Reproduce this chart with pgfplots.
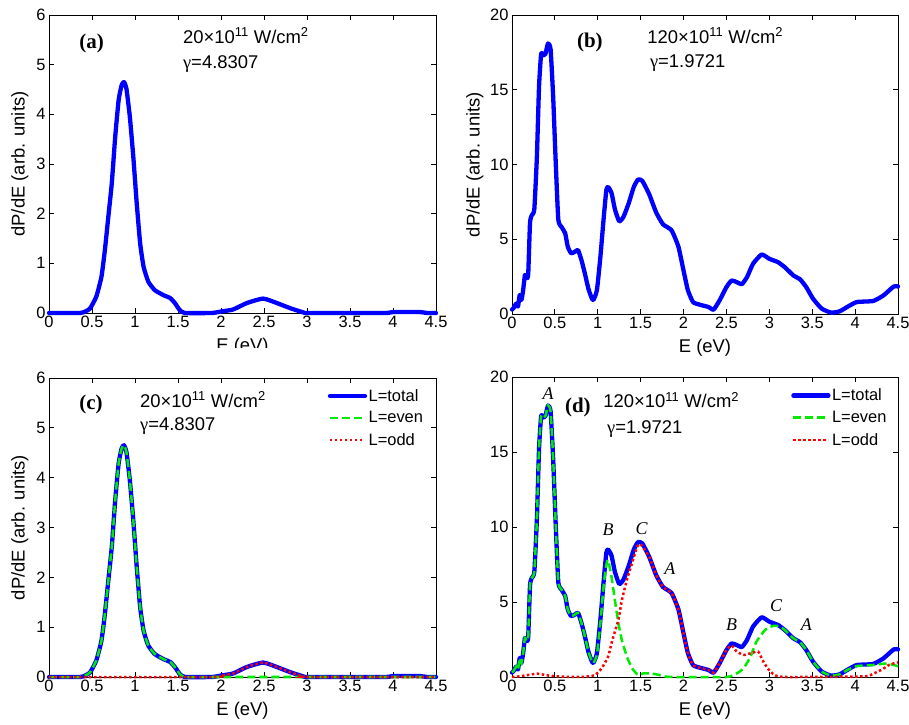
\documentclass[border=0pt]{standalone}
\usepackage{fontspec}
\setmainfont{Liberation Sans}
\newfontfamily\timesfont{Liberation Serif}
\usepackage{pgfplots}
\usepackage{pgfplotstable}
\pgfplotsset{compat=1.18}
\definecolor{mblue}{RGB}{0,0,255}
\definecolor{mgreen}{RGB}{0,235,0}
\definecolor{mred}{RGB}{255,0,0}

% ---------- 20x10^11 W/cm^2 ----------
\pgfplotstableread{
x y
0 0
0.36 0
0.42 0.03
0.477 0.09
0.55 0.33
0.61 0.73
0.65 1.27
0.69 1.94
0.73 2.61
0.77 3.55
0.81 4.29
0.845 4.59
0.872 4.65
0.9 4.52
0.94 3.95
0.98 3.15
1.02 2.21
1.06 1.4
1.1 0.93
1.155 0.63
1.23 0.46
1.33 0.36
1.41 0.3
1.466 0.195
1.52 0.06
1.58 0
1.9 0
2.0 0.03
2.14 0.07
2.3 0.2
2.49 0.29
2.65 0.2
2.8 0.1
2.96 0.01
3.03 0
3.9 0
4.0 0.02
4.3 0.02
4.4 0
4.5 0
}\totalA

\pgfplotstableread{
x y
0 0
0.36 0
0.42 0.03
0.477 0.09
0.55 0.33
0.61 0.73
0.65 1.27
0.69 1.94
0.73 2.61
0.77 3.55
0.81 4.29
0.845 4.59
0.872 4.65
0.9 4.52
0.94 3.95
0.98 3.15
1.02 2.21
1.06 1.4
1.1 0.93
1.155 0.63
1.23 0.46
1.33 0.36
1.41 0.3
1.466 0.195
1.52 0.06
1.58 0
1.9 0
4.5 0
}\evenA

\pgfplotstableread{
x y
0 0
1.9 0
2.0 0.03
2.14 0.07
2.3 0.2
2.49 0.29
2.65 0.2
2.8 0.1
2.96 0.01
3.03 0
4.5 0
}\oddA

% ---------- 120x10^11 W/cm^2 ----------
\pgfplotstableread{
x y
0 0.3
0.016 0.38
0.05 0.7
0.07 0.5
0.09 1.27
0.11 0.94
0.13 1.6
0.15 2.6
0.16 2.5
0.18 2.4
0.19 2.8
0.21 6.1
0.23 6.6
0.26 7.0
0.29 10.5
0.315 15.2
0.34 17.4
0.37 17.3
0.39 17.4
0.42 18.1
0.45 17.7
0.48 14.5
0.51 10.1
0.54 6.3
0.58 5.8
0.62 5.4
0.65 4.5
0.69 4.06
0.735 4.17
0.77 4.28
0.81 3.6
0.85 2.7
0.89 1.7
0.93 1.05
0.95 0.94
0.99 1.6
1.03 3.8
1.07 6.5
1.10 8.3
1.12 8.5
1.16 8.1
1.20 7.0
1.25 6.2
1.30 6.5
1.36 7.4
1.42 8.5
1.47 9.0
1.52 8.9
1.6 8.0
1.68 6.8
1.76 6.0
1.86 5.6
1.94 4.5
2.0 2.9
2.05 1.6
2.11 0.8
2.19 0.62
2.29 0.47
2.35 0.29
2.42 0.91
2.5 1.8
2.56 2.24
2.62 2.13
2.68 2.0
2.74 2.47
2.81 3.36
2.91 3.98
3.0 3.69
3.1 3.47
3.18 3.13
3.28 2.58
3.36 2.31
3.43 1.8
3.51 1.02
3.61 0.36
3.72 0.09
3.82 0.18
3.92 0.51
4.02 0.8
4.21 0.87
4.33 1.24
4.45 1.84
4.5 1.84
}\totalB

\pgfplotstableread{
x y
0 0.3
0.016 0.38
0.05 0.7
0.07 0.5
0.09 1.27
0.11 0.94
0.13 1.6
0.15 2.6
0.16 2.5
0.18 2.4
0.19 2.8
0.21 6.1
0.23 6.6
0.26 7.0
0.29 10.5
0.315 15.2
0.34 17.4
0.37 17.3
0.39 17.4
0.42 18.1
0.45 17.7
0.48 14.5
0.51 10.1
0.54 6.3
0.58 5.8
0.62 5.4
0.65 4.5
0.69 4.06
0.735 4.17
0.77 4.28
0.81 3.6
0.85 2.7
0.89 1.7
0.93 1.05
0.95 0.94
0.99 1.5
1.03 3.6
1.07 6.2
1.10 7.5
1.12 7.8
1.16 6.7
1.20 5.1
1.24 3.6
1.28 2.47
1.34 1.35
1.40 0.58
1.47 0.13
1.53 0.24
1.62 0.24
1.72 0.13
1.80 0.02
1.9 0
2.5 0
2.62 0.24
2.70 0.58
2.78 1.35
2.85 2.36
2.95 3.13
3.04 3.4
3.12 3.38
3.18 3.13
3.28 2.58
3.36 2.31
3.43 1.8
3.51 1.02
3.61 0.36
3.72 0.09
3.82 0.18
3.92 0.5
4.02 0.73
4.21 0.8
4.37 0.9
4.5 0.72
}\evenB

\pgfplotstableread{
x y
0 0
0.1 0.05
0.2 0.15
0.3 0.22
0.4 0.12
0.5 0.05
0.6 0.02
0.8 0
0.9 0.05
0.97 0.13
1.045 0.58
1.12 1.35
1.17 2.47
1.24 3.8
1.28 5.1
1.34 6.5
1.40 7.6
1.46 8.7
1.5 8.85
1.6 8.0
1.68 6.8
1.76 6.0
1.86 5.6
1.94 4.5
2.0 2.9
2.05 1.6
2.11 0.8
2.19 0.62
2.29 0.47
2.35 0.29
2.42 0.91
2.5 1.8
2.56 2.1
2.62 1.69
2.70 1.47
2.78 1.58
2.87 1.69
2.92 1.13
2.98 0.58
3.06 0.13
3.2 0
4.1 0.04
4.21 0.22
4.31 0.49
4.4 0.82
4.5 0.98
}\oddB

\pgfplotsset{
  mystyle/.style={
    scale only axis, width=387bp, height=299bp, anchor=south west,
    xmin=0, xmax=4.5, ymin=0,
    xtick={0,0.5,1,1.5,2,2.5,3,3.5,4,4.5},
    tick align=inside, major tick length=5bp,
    axis line style={line width=0.8bp},
    every tick/.append style={line width=0.8bp, black},
    tick label style={font=\fontsize{16.5}{18}\selectfont},
    label style={font=\fontsize{18.5}{20}\selectfont},
    /pgf/number format/assume math mode=true,
    clip=false,
    xlabel={E (eV)},
    xlabel style={at={(axis description cs:0.5,-0.114)}, anchor=center},
    legend cell align=left,
    legend style={draw=none, fill=none, anchor=north west,
      font=\fontsize{16.5}{18}\selectfont, row sep=6bp, inner sep=0pt,
      nodes={inner sep=1.5bp}},
    legend image code/.code={\draw[##1] (0bp,0bp) -- (35bp,0bp);},
  },
  total/.style={mblue, line width=4.3bp, line join=round, line cap=round, smooth, tension=0.3},
  even/.style={mgreen, line width=2.5bp, dash pattern=on 8bp off 4bp, smooth, tension=0.3},
  odd/.style={mred, line width=2.5bp, dash pattern=on 2.5bp off 2.5bp, smooth, tension=0.3},
}
\tikzset{
  ann/.style={anchor=base west, inner sep=0pt, font=\fontsize{18.5}{20}\selectfont},
  plab/.style={anchor=base west, inner sep=0pt, font=\timesfont\bfseries\fontsize{21}{23}\selectfont},
  abc/.style={anchor=center, inner sep=0pt, font=\timesfont\itshape\fontsize{18}{20}\selectfont},
}

\begin{document}
\begin{tikzpicture}
\useasboundingbox (0,0) rectangle (909bp,725bp);

% (a)
\begin{axis}[mystyle, at={(49bp,412bp)}, width=387bp, height=298bp,
  ymax=6, ytick={0,1,2,3,4,5,6},
  ylabel={dP/dE (arb. units)},
  ylabel style={at={(axis description cs:-0.075,0.5)}, anchor=center}]
\addplot[total] table {\totalA};
\node[plab] at (axis description cs:0.078,0.889) {(a)};
\node[ann] at (axis description cs:0.346,0.906) {20×10\textsuperscript{11} W/cm\textsuperscript{2}};
\node[ann] at (axis description cs:0.346,0.822) {{\timesfont γ}=4.8307};
\end{axis}

% (b)
\begin{axis}[mystyle, at={(512bp,411bp)}, width=386bp, height=299bp,
  ymax=20, ytick={0,5,10,15,20},
  ylabel={dP/dE (arb. units)},
  ylabel style={at={(axis description cs:-0.096,0.5)}, anchor=center}]
\addplot[total] table {\totalB};
\node[plab] at (axis description cs:0.168,0.89) {(b)};
\node[ann] at (axis description cs:0.35,0.906) {120×10\textsuperscript{11} W/cm\textsuperscript{2}};
\node[ann] at (axis description cs:0.357,0.823) {{\timesfont γ}=1.9721};
\end{axis}

\fill[white] (0,0) rectangle (455bp,377bp);

% (c)
\begin{axis}[mystyle, at={(49bp,48bp)}, width=387bp, height=299bp,
  ymax=6, ytick={0,1,2,3,4,5,6},
  ylabel={dP/dE (arb. units)},
  ylabel style={at={(axis description cs:-0.075,0.5)}, anchor=center},
  legend style={at={(axis description cs:0.72,0.968)}}]
\addplot[total] table {\totalA};
\addlegendentry{L=total}
\addplot[even] table {\evenA};
\addlegendentry{L=even}
\addplot[odd] table {\oddA};
\addlegendentry{L=odd}
\node[plab] at (axis description cs:0.078,0.893) {(c)};
\node[ann] at (axis description cs:0.235,0.903) {20×10\textsuperscript{11} W/cm\textsuperscript{2}};
\node[ann] at (axis description cs:0.235,0.826) {{\timesfont γ}=4.8307};
\end{axis}

% (d)
\begin{axis}[mystyle, at={(512bp,48bp)}, width=386bp, height=300bp,
  ymax=20, ytick={0,5,10,15,20},
  legend style={at={(axis description cs:0.723,0.966)}}]
\addplot[total] table {\totalB};
\addlegendentry{L=total}
\addplot[even] table {\evenB};
\addlegendentry{L=even}
\addplot[odd] table {\oddB};
\addlegendentry{L=odd}
\node[plab] at (axis description cs:0.137,0.88) {(d)};
\node[ann] at (axis description cs:0.236,0.897) {120×10\textsuperscript{11} W/cm\textsuperscript{2}};
\node[ann] at (axis description cs:0.246,0.81) {{\timesfont γ}=1.9721};
\node[abc] at (axis cs:0.42,18.9) {A};
\node[abc] at (axis cs:1.12,9.8) {B};
\node[abc] at (axis cs:1.51,9.9) {C};
\node[abc] at (axis cs:1.84,7.25) {A};
\node[abc] at (axis cs:2.56,3.47) {B};
\node[abc] at (axis cs:3.08,4.73) {C};
\node[abc] at (axis cs:3.43,3.47) {A};
\end{axis}
\end{tikzpicture}
\end{document}
